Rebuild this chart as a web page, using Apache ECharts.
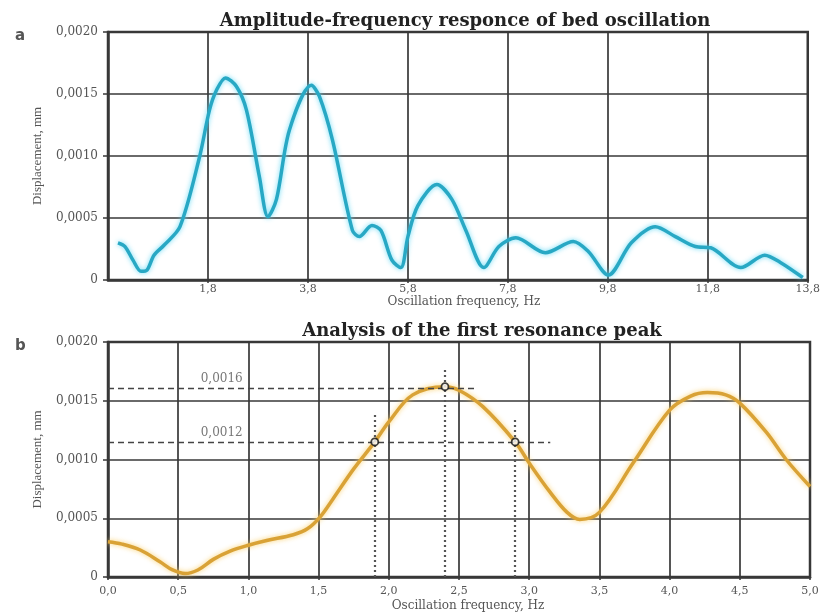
<!DOCTYPE html>
<html>
<head>
<meta charset="utf-8">
<script src="https://cdn.jsdelivr.net/npm/echarts@6/dist/echarts.min.js"></script>
<style>html,body{margin:0;padding:0;background:#fff;}#c{width:823px;height:613px;}</style>
</head>
<body>
<div id="c"></div>
<script>
// ---- Data: panel a (amplitude-frequency response) ----
var freqA = [0.0, 0.14, 0.3, 0.46, 0.58, 0.72, 0.92, 1.24, 1.63, 1.83, 1.97, 2.15, 2.37, 2.57, 2.83, 3.0, 3.17, 3.43, 3.87, 4.03, 4.29, 4.69, 4.83, 5.08, 5.26, 5.48, 5.66, 5.8, 6.0, 6.38, 6.68, 6.96, 7.32, 7.62, 7.96, 8.55, 9.11, 9.41, 9.81, 10.27, 10.75, 11.15, 11.55, 11.86, 12.46, 12.94, 13.26, 13.7];
var dispA = [0.00030, 0.00027, 0.00016, 0.00007, 0.00008, 0.00020, 0.00028, 0.00043, 0.00099, 0.00137, 0.00153, 0.00163, 0.00156, 0.00137, 0.00083, 0.00051, 0.00065, 0.00121, 0.00157, 0.00148, 0.00113, 0.00040, 0.00035, 0.00044, 0.00040, 0.00016, 0.00010, 0.00035, 0.00060, 0.00077, 0.00065, 0.00040, 0.00010, 0.00027, 0.00034, 0.00022, 0.00031, 0.00023, 0.00004, 0.00030, 0.00043, 0.00035, 0.00027, 0.00026, 0.00010, 0.00020, 0.00014, 0.00002];

// ---- Data: panel b (first resonance peak) ----
var freqB = [0.0, 0.1, 0.23, 0.37, 0.46, 0.55, 0.64, 0.75, 0.87, 1.0, 1.13, 1.32, 1.42, 1.51, 1.6, 1.75, 1.9, 2.0, 2.17, 2.4, 2.5, 2.67, 2.9, 3.0, 3.15, 3.27, 3.36, 3.5, 3.74, 4.0, 4.15, 4.27, 4.4, 4.5, 4.69, 4.83, 5.0];
var dispB = [0.00030, 0.00028, 0.00023, 0.00013, 0.00006, 0.00003, 0.00006, 0.00015, 0.00022, 0.00027, 0.00031, 0.00036, 0.00041, 0.00051, 0.00066, 0.00092, 0.00115, 0.00132, 0.00155, 0.00162, 0.00159, 0.00145, 0.00115, 0.00097, 0.00072, 0.00055, 0.00049, 0.00055, 0.00097, 0.00142, 0.00154, 0.00157, 0.00155, 0.00148, 0.00123, 0.00100, 0.00077];

// Analysis markers (half-power points and peak)
var markFreq = [1.9, 2.4, 2.9];
var markDisp = [0.00115, 0.00162, 0.00115];
// Horizontal reference levels and their end frequencies
var refLevels = [0.00161, 0.00115];
var refEnds = [2.63, 3.15];
var refTexts = ['0,0016', '0,0012'];
// Vertical dotted lines: frequency and top value
var vFreq = [1.9, 2.4, 2.9];
var vTop = [0.00138, 0.00178, 0.00136];

function pairs(xs, ys) { return xs.map(function (x, i) { return [x, ys[i]]; }); }
function comma(v, d) { return v.toFixed(d).replace('.', ','); }

var serif = 'DejaVu Serif';
var gridColor = '#383838';
var labelColor = '#555';

function yAxisCfg(gridIndex) {
  return {
    type: 'value', gridIndex: gridIndex, min: 0, max: 0.002, interval: 0.0005,
    name: 'Displacement, mm', nameLocation: 'middle', nameGap: 64,
    nameTextStyle: { fontFamily: 'Liberation Serif', fontSize: 13, color: labelColor },
    axisLine: { show: true, onZero: false, lineStyle: { color: gridColor, width: 2.5 } },
    axisTick: { show: true, length: 5, lineStyle: { color: gridColor, width: 1.5 } },
    splitLine: { show: true, lineStyle: { color: gridColor, width: 1.7 } },
    axisLabel: {
      fontFamily: serif, fontSize: 12, color: labelColor, margin: 10,
      formatter: function (v) { return v === 0 ? '0' : comma(v, 4); }
    }
  };
}

var option = {
  animation: false,
  backgroundColor: '#fff',
  title: [
    { text: 'Amplitude-frequency responce of bed oscillation', left: 460, textAlign: 'center', top: 7,
      textStyle: { fontFamily: serif, fontWeight: 'bold', fontSize: 18, color: '#222' } },
    { text: 'Analysis of the first resonance peak', left: 477, textAlign: 'center', top: 317,
      textStyle: { fontFamily: serif, fontWeight: 'bold', fontSize: 18, color: '#222' } },
    { text: 'a', left: 10, top: 24, textStyle: { fontFamily: 'DejaVu Sans', fontWeight: 'bold', fontSize: 15, color: '#555' } },
    { text: 'b', left: 10, top: 334, textStyle: { fontFamily: 'DejaVu Sans', fontWeight: 'bold', fontSize: 15, color: '#555' } }
  ],
  grid: [
    { left: 108, top: 32, right: 13, height: 248, show: true, borderColor: gridColor, borderWidth: 2.5, backgroundColor: '#fff' },
    { left: 108, top: 342, right: 13, height: 236, show: true, borderColor: gridColor, borderWidth: 2.5, backgroundColor: '#fff' }
  ],
  xAxis: [
    {
      type: 'value', gridIndex: 0, min: -0.2, max: 13.8, interval: 2,
      name: 'Oscillation frequency, Hz', nameLocation: 'middle', nameGap: 11,
      nameTextStyle: { fontFamily: serif, fontSize: 12, color: labelColor, padding: [0, 0, 0, 12] },
      axisLine: { show: true, onZero: false, lineStyle: { color: gridColor, width: 2.5 } },
      axisTick: { show: true, length: 3, lineStyle: { color: gridColor, width: 1.5 } },
      splitLine: { show: true, lineStyle: { color: gridColor, width: 1.7 } },
      axisLabel: {
        fontFamily: serif, fontSize: 11, color: labelColor, margin: 4,
        showMinLabel: false,
        formatter: function (v) { return v < 0 ? '' : comma(v, 1); }
      }
    },
    {
      type: 'value', gridIndex: 1, min: 0, max: 5, interval: 0.5,
      name: 'Oscillation frequency, Hz', nameLocation: 'middle', nameGap: 23,
      nameTextStyle: { fontFamily: serif, fontSize: 12, color: labelColor, padding: [0, 0, 0, 18] },
      axisLine: { show: true, onZero: false, lineStyle: { color: gridColor, width: 2.5 } },
      axisTick: { show: true, length: 3, lineStyle: { color: gridColor, width: 1.5 } },
      splitLine: { show: true, lineStyle: { color: gridColor, width: 1.7 } },
      axisLabel: {
        fontFamily: serif, fontSize: 11, color: labelColor, margin: 9,
        formatter: function (v) { return comma(v, 1); }
      }
    }
  ],
  yAxis: [yAxisCfg(0), yAxisCfg(1)],
  series: [
    {
      type: 'line', xAxisIndex: 0, yAxisIndex: 0, data: pairs(freqA, dispA),
      smooth: 0.3, symbol: 'none',
      lineStyle: { color: '#28a8c4', width: 3.5, shadowColor: 'rgba(90,215,245,0.9)', shadowBlur: 5 }
    },
    {
      type: 'line', xAxisIndex: 1, yAxisIndex: 1, data: pairs(freqB, dispB),
      smooth: 0.35, symbol: 'none', z: 3,
      lineStyle: { color: '#d9a236', width: 3.5, shadowColor: 'rgba(250,205,100,0.9)', shadowBlur: 5 },
      markLine: {
        silent: true, symbol: 'none', label: { show: false },
        lineStyle: { color: '#444', width: 1.3, type: [6, 4] },
        data: refLevels.map(function (lv, i) { return [{ coord: [0, lv] }, { coord: [refEnds[i], lv] }]; })
          .concat(vFreq.map(function (f, i) {
            return [{ coord: [f, 0], lineStyle: { type: [2, 3], width: 2.2, color: '#555' } }, { coord: [f, vTop[i]] }];
          }))
      }
    },
    {
      type: 'scatter', xAxisIndex: 1, yAxisIndex: 1, symbolSize: 0, silent: true,
      data: refLevels.map(function (lv, i) { return [0.81, lv, refTexts[i]]; }),
      label: {
        show: true, position: 'top', distance: 3,
        fontFamily: serif, fontSize: 12, color: labelColor,
        formatter: function (p) { return p.value[2]; }
      }
    },
    {
      type: 'scatter', xAxisIndex: 1, yAxisIndex: 1, z: 5, data: pairs(markFreq, markDisp),
      symbol: 'circle', symbolSize: 7,
      itemStyle: { color: '#fff', borderColor: '#111', borderWidth: 1.8 }
    }
  ]
};

var chart = echarts.init(document.getElementById('c'), null, { renderer: 'canvas' });
chart.setOption(option);
</script>
</body>
</html>
